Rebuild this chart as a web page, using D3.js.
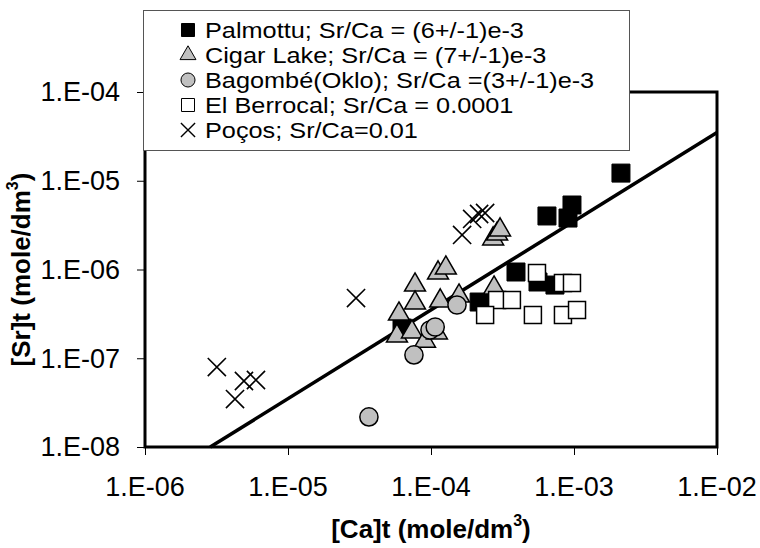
<!DOCTYPE html>
<html>
<head>
<meta charset="utf-8">
<script src="https://cdn.jsdelivr.net/npm/d3@7"></script>
<style>
  html, body { margin: 0; padding: 0; background: #fff; }
  svg { display: block; }
  text { font-family: "Liberation Sans", Arial, sans-serif; fill: #000; }
</style>
</head>
<body>
<svg id="chart" width="760" height="548"></svg>
<script>
// ---- data ----
const xTickValues = [1e-6, 1e-5, 1e-4, 1e-3, 1e-2];
const xTickLabels = ["1.E-06", "1.E-05", "1.E-04", "1.E-03", "1.E-02"];
const yTickValues = [1e-8, 1e-7, 1e-6, 1e-5, 1e-4];
const yTickLabels = ["1.E-08", "1.E-07", "1.E-06", "1.E-05", "1.E-04"];

const seriesNames = [
  "Palmottu; Sr/Ca = (6+/-1)e-3",
  "Cigar Lake; Sr/Ca = (7+/-1)e-3",
  "Bagombé(Oklo); Sr/Ca =(3+/-1)e-3",
  "El Berrocal; Sr/Ca = 0.0001",
  "Poços; Sr/Ca=0.01"
];

const palmottuCa = [6.27e-5, 2.17e-4, 3.93e-4, 5.60e-4, 7.36e-4, 6.47e-4, 9.08e-4, 9.68e-4, 2.13e-3];
const palmottuSr = [2.19e-7, 4.30e-7, 9.37e-7, 7.23e-7, 6.68e-7, 4.01e-6, 3.80e-6, 5.33e-6, 1.22e-5];

const cigarCa = [5.78e-5, 5.97e-5, 7.36e-5, 9.08e-5, 7.73e-5, 7.73e-5, 1.12e-4, 1.27e-4, 1.16e-4, 1.57e-4, 2.76e-4, 2.72e-4, 2.90e-4, 3.04e-4, 1.10e-4];
const cigarSr = [1.78e-7, 3.15e-7, 1.98e-7, 1.56e-7, 6.68e-7, 4.19e-7, 9.14e-7, 1.04e-6, 4.42e-7, 5.03e-7, 6.19e-7, 2.21e-6, 2.51e-6, 2.79e-6, 1.93e-7];

const bagombeCa = [3.68e-5, 7.60e-5, 9.84e-5, 1.07e-4, 1.52e-4];
const bagombeSr = [2.18e-8, 1.09e-7, 2.08e-7, 2.25e-7, 3.98e-7];

const berrocalCa = [5.51e-4, 8.37e-4, 9.68e-4, 2.90e-4, 3.68e-4, 2.39e-4, 5.16e-4, 8.37e-4, 1.05e-3];
const berrocalSr = [9.14e-7, 7.05e-7, 7.05e-7, 4.53e-7, 4.53e-7, 3.07e-7, 3.07e-7, 3.07e-7, 3.50e-7];

const pocosCa = [3.18e-6, 4.26e-6, 4.92e-6, 5.97e-6, 2.99e-5, 1.65e-4, 1.94e-4, 2.17e-4, 2.39e-4];
const pocosSr = [7.96e-8, 3.47e-8, 5.54e-8, 5.69e-8, 4.77e-7, 2.45e-6, 3.71e-6, 4.22e-6, 4.33e-6];

// fitted line Sr = ratio * Ca
const fitRatio = 3.5e-3;
const fitCa = [1e-8 / 3.5e-3, 1e-2];

// ---- layout ----
const svg = d3.select("#chart");
const L = 145, T = 92, R = 717, B = 447;

const x = d3.scaleLog().domain([1e-6, 1e-2]).range([L, R]);
const y = d3.scaleLog().domain([1e-8, 1e-4]).range([B, T]);

const zip = (a, b) => a.map((v, i) => ({ ca: v, sr: b[i] }));

// ticks
const yAxis = d3.axisLeft(y).tickValues(yTickValues).tickSize(8).tickFormat("");
const xAxis = d3.axisBottom(x).tickValues(xTickValues).tickSize(8).tickFormat("");
const gy = svg.append("g").attr("transform", `translate(${L},0)`).call(yAxis);
const gx = svg.append("g").attr("transform", `translate(0,${B})`).call(xAxis);
[gy, gx].forEach(g => {
  g.select(".domain").remove();
  g.selectAll("line").attr("stroke", "#000").attr("stroke-width", 1);
});

// tick labels
svg.append("g").selectAll("text").data(yTickValues).join("text")
  .attr("x", 120).attr("y", d => y(d))
  .attr("dy", "0.35em")
  .attr("text-anchor", "end")
  .style("font-size", "27px")
  .text((d, i) => yTickLabels[i]);

svg.append("g").selectAll("text").data(xTickValues).join("text")
  .attr("x", d => x(d)).attr("y", 496)
  .attr("text-anchor", "middle")
  .style("font-size", "27px")
  .text((d, i) => xTickLabels[i]);

// axis titles
const xt = svg.append("text").attr("x", (L + R) / 2).attr("y", 538)
  .attr("text-anchor", "middle").style("font-size", "26px").style("font-weight", "bold");
xt.append("tspan").text("[Ca]t (mole/dm");
xt.append("tspan").attr("dy", -12).style("font-size", "16px").text("3");
xt.append("tspan").attr("dy", 12).text(")");

const yt = svg.append("text").attr("transform", `translate(30,${(T + B) / 2}) rotate(-90)`)
  .attr("text-anchor", "middle").style("font-size", "26px").style("font-weight", "bold");
yt.append("tspan").text("[Sr]t (mole/dm");
yt.append("tspan").attr("dy", -12).style("font-size", "16px").text("3");
yt.append("tspan").attr("dy", 12).text(")");

// fitted line
svg.append("path")
  .datum(fitCa.map(c => ({ ca: c, sr: c * fitRatio })))
  .attr("d", d3.line().x(d => x(d.ca)).y(d => y(d.sr)))
  .attr("fill", "none").attr("stroke", "#000").attr("stroke-width", 3.5);

// marker helpers
const sym = (type, size) => d3.symbol().type(type).size(size)();
const styles = [
  { type: d3.symbolSquare, size: 18 * 18, fill: "#000", stroke: "#000", sw: 1, lsize: 13 * 13 },
  { type: d3.symbolTriangle, size: 190, fill: "#c0c0c0", stroke: "#000", sw: 1.5, lsize: 110 },
  { type: d3.symbolCircle, size: 260, fill: "#c0c0c0", stroke: "#000", sw: 1.5, lsize: 155 },
  { type: d3.symbolSquare, size: 17 * 17, fill: "#fff", stroke: "#000", sw: 1.5, lsize: 13 * 13 },
  { type: d3.symbolX, size: 220, fill: "none", stroke: "#000", sw: 1.6, lsize: 150 }
];
const allSeries = [
  zip(palmottuCa, palmottuSr),
  zip(cigarCa, cigarSr),
  zip(bagombeCa, bagombeSr),
  zip(berrocalCa, berrocalSr),
  zip(pocosCa, pocosSr)
];

function drawX(g, s) {
  const h = Math.sqrt(s) / 2;
  g.append("path").attr("d", `M${-h},${-h}L${h},${h}M${-h},${h}L${h},${-h}`);
}

allSeries.forEach((data, si) => {
  const st = styles[si];
  const g = svg.append("g");
  data.forEach(d => {
    const m = g.append("g").attr("transform", `translate(${x(d.ca)},${y(d.sr)})`)
      .attr("fill", st.fill).attr("stroke", st.stroke).attr("stroke-width", st.sw);
    if (si === 4) drawX(m, 330);
    else m.append("path").attr("d", sym(st.type, st.size));
  });
});

// plot frame
svg.append("rect").attr("x", L).attr("y", T).attr("width", R - L).attr("height", B - T)
  .attr("fill", "none").attr("stroke", "#000").attr("stroke-width", 3);

// legend
const lg = svg.append("g");
lg.append("rect").attr("x", 143.5).attr("y", 10.5).attr("width", 486).attr("height", 140)
  .attr("fill", "#fff").attr("stroke", "#555").attr("stroke-width", 1);
seriesNames.forEach((name, i) => {
  const cy = 30 + i * 25;
  const st = styles[i];
  const m = lg.append("g").attr("transform", `translate(188,${cy})`)
    .attr("fill", st.fill).attr("stroke", st.stroke).attr("stroke-width", i === 4 ? 1.4 : 1);
  if (i === 4) drawX(m, 200);
  else m.append("path").attr("d", sym(st.type, st.lsize));
  lg.append("text").attr("transform", `translate(205,${cy}) scale(1.15,1)`)
    .attr("dy", "0.35em")
    .style("font-size", "22px").text(name);
});
</script>
</body>
</html>
